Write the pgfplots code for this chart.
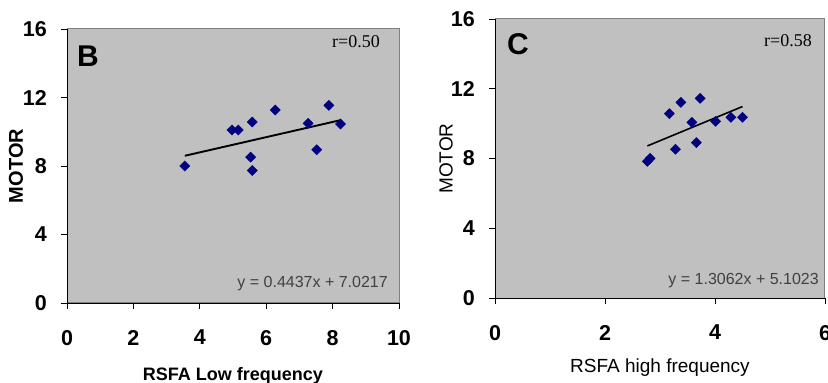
\documentclass[border=0pt]{standalone}
\usepackage{fontspec}
\setmainfont{Liberation Sans}
\newfontfamily\timesf{Liberation Serif}
\usepackage{pgfplots}
\pgfplotsset{compat=1.18}
\definecolor{plotbg}{HTML}{C0C0C0}
\definecolor{navymark}{HTML}{000080}
\definecolor{frame}{HTML}{808080}
\definecolor{eqtext}{HTML}{404040}
\begin{document}
\begin{tikzpicture}
\pgfplotsset{
  common/.style={
    scale only axis,
    anchor=south west,
    axis lines=left,
    axis line style={-, black, line width=0.9pt},
    axis background/.style={fill=plotbg, draw=frame, line width=1pt},
    tick align=outside,
    major tick length=6pt,
    tick style={black, line width=0.9pt},
    ymin=0, ymax=16, ytick={0,4,8,12,16},
    /pgf/number format/assume math mode=true,
    ticklabel style={font=\fontsize{21.5}{25}\selectfont\bfseries, inner sep=0pt},
    yticklabel style={anchor=east, xshift=-14pt},
    xticklabel style={anchor=north, yshift=-21pt},
    every axis x label/.style={at={(axis description cs:0.5,0)}, anchor=base},
    every axis y label/.style={at={(axis description cs:0,0.5)}, rotate=90, anchor=center},
    clip=false,
  },
  pts/.style={only marks, mark=square*, mark size=3.6pt, mark options={rotate=45, fill=navymark, draw=navymark}},
  trend/.style={no marks, black, line width=1.9pt},
}
% Panel B
\begin{axis}[common,
  at={(67pt,80pt)}, width=332pt, height=274pt,
  xmin=0, xmax=10, xtick={0,2,4,6,8,10},
  xlabel={\fontsize{18}{22}\selectfont\bfseries RSFA Low frequency},
  xlabel style={yshift=-77pt},
  ylabel={\fontsize{20}{24}\selectfont\bfseries MOTOR},
  ylabel style={yshift=51pt},
]
\addplot[pts] coordinates {
 (3.55,8.00) (4.97,10.10) (5.16,10.10) (5.58,10.57) (5.53,8.52) (5.58,7.74)
 (6.27,11.27) (7.26,10.49) (7.52,8.95) (7.89,11.54) (8.24,10.45)
};
\addplot[trend] coordinates {(3.55,8.597) (8.24,10.678)};
\node[anchor=base west, inner sep=0pt, font=\fontsize{30}{34}\selectfont\bfseries]
  at (axis description cs:0,1) [xshift=10pt, yshift=-38pt] {B};
\node[anchor=base east, inner sep=0pt, font=\timesf\fontsize{18}{21}\selectfont]
  at (axis description cs:1,1) [xshift=-19pt, yshift=-19pt] {r=0.50};
\node[anchor=base east, inner sep=0pt, text=eqtext, font=\fontsize{16}{19}\selectfont]
  at (axis description cs:1,0) [xshift=-11pt, yshift=16pt] {y = 0.4437x + 7.0217};
\end{axis}
% Panel C
\begin{axis}[common,
  at={(495pt,85pt)}, width=330pt, height=279pt,
  xmin=0, xmax=6, xtick={0,2,4,6},
  xlabel={\fontsize{19}{22}\selectfont RSFA high frequency},
  xlabel style={yshift=-74pt},
  ylabel={\fontsize{19}{22}\selectfont MOTOR},
  ylabel style={yshift=49pt},
]
\addplot[pts] coordinates {
 (2.77,7.84) (2.82,8.01) (3.17,10.57) (3.38,11.22) (3.73,11.45) (3.58,10.07)
 (3.28,8.53) (3.66,8.91) (4.01,10.13) (4.29,10.36) (4.50,10.36)
};
\addplot[trend, line width=1.6pt] coordinates {(2.77,8.720) (4.50,10.980)};
\node[anchor=base west, inner sep=0pt, font=\fontsize{30}{34}\selectfont\bfseries]
  at (axis description cs:0,1) [xshift=12pt, yshift=-36pt] {C};
\node[anchor=base east, inner sep=0pt, font=\timesf\fontsize{18}{21}\selectfont]
  at (axis description cs:1,1) [xshift=-13pt, yshift=-28pt] {r=0.58};
\node[anchor=base east, inner sep=0pt, text=eqtext, font=\fontsize{16}{19}\selectfont]
  at (axis description cs:1,0) [xshift=-6pt, yshift=13pt] {y = 1.3062x + 5.1023};
\end{axis}
\pgfresetboundingbox
\path[use as bounding box] (0pt,0pt) rectangle (828pt,383pt);
\end{tikzpicture}
\end{document}
